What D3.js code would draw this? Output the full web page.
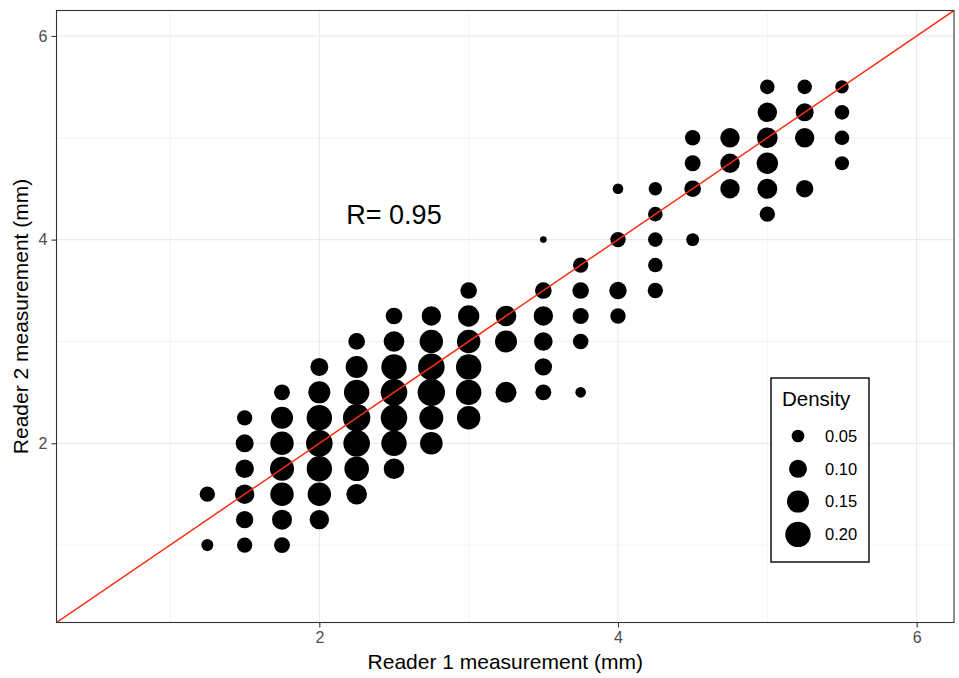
<!DOCTYPE html>
<html>
<head>
<meta charset="utf-8">
<script src="https://cdn.jsdelivr.net/npm/d3@7"></script>
<style>
  body { margin: 0; background: #fff; }
  text { font-family: "Liberation Sans", Arial, Helvetica, sans-serif; }
</style>
</head>
<body>
<script>
// binned reader measurements (mm) and the share of cases in each cell
const reader1 = [
    1.25, 1.25,
    1.5, 1.5, 1.5, 1.5, 1.5, 1.5,
    1.75, 1.75, 1.75, 1.75, 1.75, 1.75, 1.75,
    2, 2, 2, 2, 2, 2, 2,
    2.25, 2.25, 2.25, 2.25, 2.25, 2.25, 2.25,
    2.5, 2.5, 2.5, 2.5, 2.5, 2.5, 2.5,
    2.75, 2.75, 2.75, 2.75, 2.75, 2.75,
    3, 3, 3, 3, 3, 3,
    3.25, 3.25, 3.25,
    3.5, 3.5, 3.5, 3.5, 3.5, 3.5,
    3.75, 3.75, 3.75, 3.75, 3.75,
    4, 4, 4, 4,
    4.25, 4.25, 4.25, 4.25, 4.25,
    4.5, 4.5, 4.5, 4.5,
    4.75, 4.75, 4.75,
    5, 5, 5, 5, 5, 5,
    5.25, 5.25, 5.25, 5.25,
    5.5, 5.5, 5.5, 5.5,
];
const reader2 = [
    1, 1.5,
    1, 1.25, 1.5, 1.75, 2, 2.25,
    1, 1.25, 1.5, 1.75, 2, 2.25, 2.5,
    1.25, 1.5, 1.75, 2, 2.25, 2.5, 2.75,
    1.5, 1.75, 2, 2.25, 2.5, 2.75, 3,
    1.75, 2, 2.25, 2.5, 2.75, 3, 3.25,
    2, 2.25, 2.5, 2.75, 3, 3.25,
    2.25, 2.5, 2.75, 3, 3.25, 3.5,
    2.5, 3, 3.25,
    2.5, 2.75, 3, 3.25, 3.5, 4,
    2.5, 3, 3.25, 3.5, 3.75,
    3.25, 3.5, 4, 4.5,
    3.5, 3.75, 4, 4.25, 4.5,
    4, 4.5, 4.75, 5,
    4.5, 4.75, 5,
    4.25, 4.5, 4.75, 5, 5.25, 5.5,
    4.5, 5, 5.25, 5.5,
    4.75, 5, 5.25, 5.5,
];
const density = [
    0.045, 0.073,
    0.073, 0.094, 0.117, 0.107, 0.1, 0.073,
    0.079, 0.124, 0.17, 0.179, 0.17, 0.15, 0.079,
    0.117, 0.17, 0.2, 0.219, 0.2, 0.15, 0.1,
    0.132, 0.188, 0.219, 0.233, 0.2, 0.15, 0.086,
    0.132, 0.2, 0.219, 0.219, 0.2, 0.132, 0.086,
    0.158, 0.179, 0.233, 0.219, 0.17, 0.117,
    0.17, 0.2, 0.2, 0.17, 0.142, 0.086,
    0.137, 0.15, 0.132,
    0.079, 0.094, 0.107, 0.117, 0.086, 0.0135,
    0.035, 0.075, 0.081, 0.086, 0.073,
    0.073, 0.094, 0.073, 0.035,
    0.073, 0.066, 0.066, 0.066, 0.056,
    0.052, 0.086, 0.079, 0.073,
    0.117, 0.117, 0.117,
    0.073, 0.124, 0.142, 0.132, 0.117, 0.066,
    0.094, 0.117, 0.1, 0.066,
    0.061, 0.066, 0.066, 0.056,
];

const majorTicks = [2, 4, 6];
const minorTicks = [1, 3, 5];
const legendValues = [0.05, 0.1, 0.15, 0.2];
const corrLabel = "R= 0.95";

const width = 959;
const height = 678;
const panel = { left: 56.5, right: 954, top: 10.5, bottom: 622.5 };

const svg = d3
    .select("body")
    .append("svg")
    .attr("width", width)
    .attr("height", height);

const x = d3.scaleLinear().domain([0.24, 6.25]).range([panel.left, panel.right]);
const y = d3.scaleLinear().domain([0.24, 6.25]).range([panel.bottom, panel.top]);
const r = d3.scaleSqrt().domain([0, 0.2]).range([0, 12.7]);

const points = reader1.map((d, i) => ({ r1: d, r2: reader2[i], dens: density[i] }));

svg.append("defs")
    .append("clipPath")
    .attr("id", "panel-clip")
    .append("rect")
    .attr("x", panel.left)
    .attr("y", panel.top)
    .attr("width", panel.right - panel.left)
    .attr("height", panel.bottom - panel.top);

// grid
const grid = svg.append("g");
grid.selectAll(".vminor").data(minorTicks).enter().append("line")
    .attr("x1", (d) => x(d)).attr("x2", (d) => x(d))
    .attr("y1", panel.top).attr("y2", panel.bottom)
    .attr("stroke", "#ebebeb").attr("stroke-width", 0.6);
grid.selectAll(".hminor").data(minorTicks).enter().append("line")
    .attr("y1", (d) => y(d)).attr("y2", (d) => y(d))
    .attr("x1", panel.left).attr("x2", panel.right)
    .attr("stroke", "#ebebeb").attr("stroke-width", 0.6);
grid.selectAll(".vmajor").data(majorTicks).enter().append("line")
    .attr("x1", (d) => x(d)).attr("x2", (d) => x(d))
    .attr("y1", panel.top).attr("y2", panel.bottom)
    .attr("stroke", "#ebebeb").attr("stroke-width", 1.2);
grid.selectAll(".hmajor").data(majorTicks).enter().append("line")
    .attr("y1", (d) => y(d)).attr("y2", (d) => y(d))
    .attr("x1", panel.left).attr("x2", panel.right)
    .attr("stroke", "#ebebeb").attr("stroke-width", 1.2);

// points
svg.append("g")
    .attr("clip-path", "url(#panel-clip)")
    .selectAll("circle")
    .data(points)
    .enter()
    .append("circle")
    .attr("cx", (d) => x(d.r1))
    .attr("cy", (d) => y(d.r2))
    .attr("r", (d) => r(d.dens))
    .attr("fill", "#000");

// identity line
svg.append("line")
    .attr("clip-path", "url(#panel-clip)")
    .attr("x1", x(0)).attr("y1", y(0))
    .attr("x2", x(7)).attr("y2", y(7))
    .attr("stroke", "#fc2e12")
    .attr("stroke-width", 1.5);

svg.append("text")
    .attr("x", x(2.5))
    .attr("y", y(4.25))
    .attr("dy", "0.35em")
    .attr("text-anchor", "middle")
    .style("font-size", "27px")
    .attr("fill", "#000")
    .text(corrLabel);

// panel border
svg.append("rect")
    .attr("x", panel.left).attr("y", panel.top)
    .attr("width", panel.right - panel.left)
    .attr("height", panel.bottom - panel.top)
    .attr("fill", "none")
    .attr("stroke", "#333")
    .attr("stroke-width", 1.1);

// axes
const xAxis = svg.append("g")
    .attr("transform", `translate(0,${panel.bottom})`)
    .call(d3.axisBottom(x).tickValues(majorTicks).tickFormat(d3.format("d")).tickSize(5).tickPadding(4));
const yAxis = svg.append("g")
    .attr("transform", `translate(${panel.left},0)`)
    .call(d3.axisLeft(y).tickValues(majorTicks).tickFormat(d3.format("d")).tickSize(5).tickPadding(4));
[xAxis, yAxis].forEach((a) => {
    a.select(".domain").remove();
    a.selectAll(".tick line").attr("stroke", "#333").attr("stroke-width", 1.1);
    a.selectAll(".tick text")
        .attr("fill", "#4d4d4d")
        .style("font-size", "16px")
        .style("font-family", "'Liberation Sans', Arial, sans-serif");
});

svg.append("text")
    .attr("x", (panel.left + panel.right) / 2)
    .attr("y", 669)
    .attr("text-anchor", "middle")
    .style("font-size", "21px")
    .text("Reader 1 measurement (mm)");

svg.append("text")
    .attr("transform", `translate(28,${(panel.top + panel.bottom) / 2}) rotate(-90)`)
    .attr("text-anchor", "middle")
    .style("font-size", "21px")
    .text("Reader 2 measurement (mm)");

// legend
const legend = svg.append("g").attr("transform", "translate(771,378)");
legend.append("rect")
    .attr("width", 98)
    .attr("height", 184)
    .attr("fill", "#fff")
    .attr("stroke", "#000")
    .attr("stroke-width", 1.4);
legend.append("text")
    .attr("x", 11)
    .attr("y", 28)
    .style("font-size", "20.5px")
    .text("Density");
const items = legend.selectAll(".legend-item")
    .data(legendValues)
    .enter()
    .append("g")
    .attr("class", "legend-item")
    .attr("transform", (d, i) => `translate(27, ${58 + i * 32.8})`);
items.append("circle")
    .attr("r", (d) => r(d))
    .attr("fill", "#000");
items.append("text")
    .attr("x", 27)
    .attr("dy", "0.35em")
    .style("font-size", "16.5px")
    .text((d) => d3.format(".2f")(d));
</script>
</body>
</html>
